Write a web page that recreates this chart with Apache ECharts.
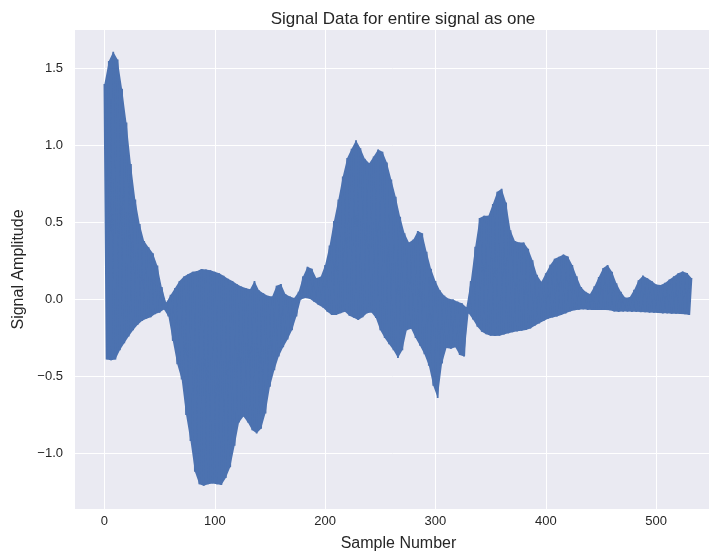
<!DOCTYPE html>
<html>
<head>
<meta charset="utf-8">
<script src="https://cdn.jsdelivr.net/npm/echarts@6/dist/echarts.min.js"></script>
<style>
html,body{margin:0;padding:0;background:#fff;}
#chart{width:709px;height:556px;}
</style>
</head>
<body>
<div id="chart"></div>
<script>
// Upper swing of the oscillating signal, at samples 0, 4, 8, ... 532
const upperValues = [
  1.40, 1.55, 1.61, 1.56, 1.37, 1.15, 0.88, 0.65, 0.49, 0.38,
  0.34, 0.30, 0.22, 0.08, -0.02, 0.03, 0.075, 0.12, 0.15, 0.165,
  0.18, 0.185, 0.198, 0.195, 0.19, 0.18, 0.17, 0.155, 0.135, 0.12,
  0.10, 0.085, 0.075, 0.066, 0.12, 0.06, 0.04, 0.025, 0.02, 0.09,
  0.10, 0.035, 0.02, 0.01, 0.05, 0.15, 0.213, 0.2, 0.14, 0.148,
  0.224, 0.35, 0.51, 0.65, 0.80, 0.92, 0.98, 1.035, 0.983, 0.915,
  0.885, 0.93, 0.975, 0.96, 0.89, 0.78, 0.668, 0.538, 0.43, 0.37,
  0.39, 0.445, 0.43, 0.31, 0.20, 0.12, 0.06, 0.025, 0.005, 0.0,
  -0.014, -0.025, -0.05, 0.12, 0.343, 0.53, 0.545, 0.545, 0.62, 0.70,
  0.72, 0.63, 0.45, 0.38, 0.37, 0.37, 0.33, 0.255, 0.16, 0.115,
  0.17, 0.225, 0.265, 0.278, 0.293, 0.28, 0.224, 0.15, 0.08, 0.05,
  0.035, 0.085, 0.146, 0.205, 0.224, 0.18, 0.105, 0.05, 0.012, 0.015,
  0.062, 0.125, 0.155, 0.138, 0.12, 0.097, 0.094, 0.108, 0.13, 0.15,
  0.17, 0.182, 0.172, 0.14
];
// Lower swing of the oscillating signal, at samples 2, 6, 10, ... 530
const lowerValues = [
  -0.39, -0.395, -0.39, -0.33, -0.285, -0.24, -0.20, -0.165, -0.14, -0.125,
  -0.115, -0.095, -0.085, -0.065, -0.11, -0.27, -0.42, -0.52, -0.75, -0.92,
  -1.12, -1.20, -1.21, -1.20, -1.195, -1.20, -1.205, -1.16, -1.09, -0.95,
  -0.80, -0.76, -0.80, -0.85, -0.87, -0.84, -0.74, -0.567, -0.46, -0.37,
  -0.31, -0.26, -0.20, -0.11, 0.0, 0.01, 0.005, -0.014, -0.035, -0.052,
  -0.08, -0.10, -0.10, -0.09, -0.08, -0.105, -0.118, -0.133, -0.115, -0.09,
  -0.085, -0.12, -0.20, -0.25, -0.29, -0.33, -0.38, -0.33, -0.20, -0.19,
  -0.25, -0.30, -0.355, -0.43, -0.56, -0.64, -0.415, -0.315, -0.32, -0.31,
  -0.36, -0.37, -0.09, -0.13, -0.177, -0.21, -0.225, -0.235, -0.237, -0.235,
  -0.228, -0.22, -0.212, -0.207, -0.203, -0.198, -0.188, -0.17, -0.155, -0.14,
  -0.125, -0.117, -0.11, -0.10, -0.09, -0.078, -0.07, -0.066, -0.064, -0.067,
  -0.068, -0.068, -0.068, -0.068, -0.07, -0.078, -0.08, -0.078, -0.078, -0.08,
  -0.08, -0.082, -0.083, -0.085, -0.086, -0.088, -0.09, -0.09, -0.092, -0.093,
  -0.094, -0.096, -0.10
];
const xTicks = [0, 100, 200, 300, 400, 500];
const yTicks = [-1.0, -0.5, 0.0, 0.5, 1.0, 1.5];

const sampleStep = 2;
const upperPts = upperValues.map((v, i) => [2 * i * sampleStep, v]);
const lowerPts = lowerValues.map((v, i) => [(2 * i + 1) * sampleStep, v]);
const seriesData = [];
for (let i = 0; i < upperPts.length; i++) {
  seriesData.push(upperPts[i]);
  if (i < lowerPts.length) seriesData.push(lowerPts[i]);
}

const blue = '#4C72B0';
const font = '"Liberation Sans", Arial, sans-serif';
const chart = echarts.init(document.getElementById('chart'), null, {renderer: 'canvas'});
chart.setOption({
  animation: false,
  backgroundColor: '#ffffff',
  title: {
    text: 'Signal Data for entire signal as one',
    left: 398, top: 6, textAlign: 'center',
    textStyle: {fontFamily: font, fontSize: 17, fontWeight: 'normal', color: '#262626'}
  },
  grid: {
    left: 75, top: 30, width: 647, height: 479, outerBoundsMode: 'none',
    show: true, backgroundColor: '#EAEAF2', borderWidth: 0
  },
  xAxis: {
    type: 'value', min: -26.65, max: 559.65,
    name: 'Sample Number', nameLocation: 'middle', nameGap: 27,
    nameTextStyle: {fontFamily: font, fontSize: 16, color: '#262626'},
    axisLine: {show: false},
    axisTick: {show: false, customValues: xTicks},
    axisLabel: {customValues: xTicks, margin: 6, fontFamily: font, fontSize: 13, color: '#262626'},
    splitLine: {show: true, lineStyle: {color: '#ffffff', width: 1}}
  },
  yAxis: {
    type: 'value', min: -1.3615, max: 1.7515,
    name: 'Signal Amplitude', nameLocation: 'middle', nameGap: 48, nameRotate: 90,
    nameTextStyle: {fontFamily: font, fontSize: 16, color: '#262626'},
    axisLine: {show: false},
    axisTick: {show: false, customValues: yTicks},
    axisLabel: {
      customValues: yTicks, margin: 12, fontFamily: font, fontSize: 13, color: '#262626',
      formatter: v => v.toFixed(1).replace('-', '\u2212')
    },
    splitLine: {show: true, lineStyle: {color: '#ffffff', width: 1}}
  },
  series: [{
    type: 'custom',
    data: [[0, 0]],
    silent: true,
    z: 2,
    renderItem: function (params, api) {
      const pts = upperPts.map(p => api.coord(p))
        .concat(lowerPts.slice().reverse().map(p => api.coord(p)));
      return {
        type: 'polygon',
        shape: {points: pts},
        style: {fill: blue, stroke: null}
      };
    }
  }, {
    type: 'line',
    data: seriesData,
    showSymbol: false,
    symbol: 'none',
    lineStyle: {color: blue, width: 1.8, join: 'bevel'},
    z: 3
  }]
});
</script>
</body>
</html>
